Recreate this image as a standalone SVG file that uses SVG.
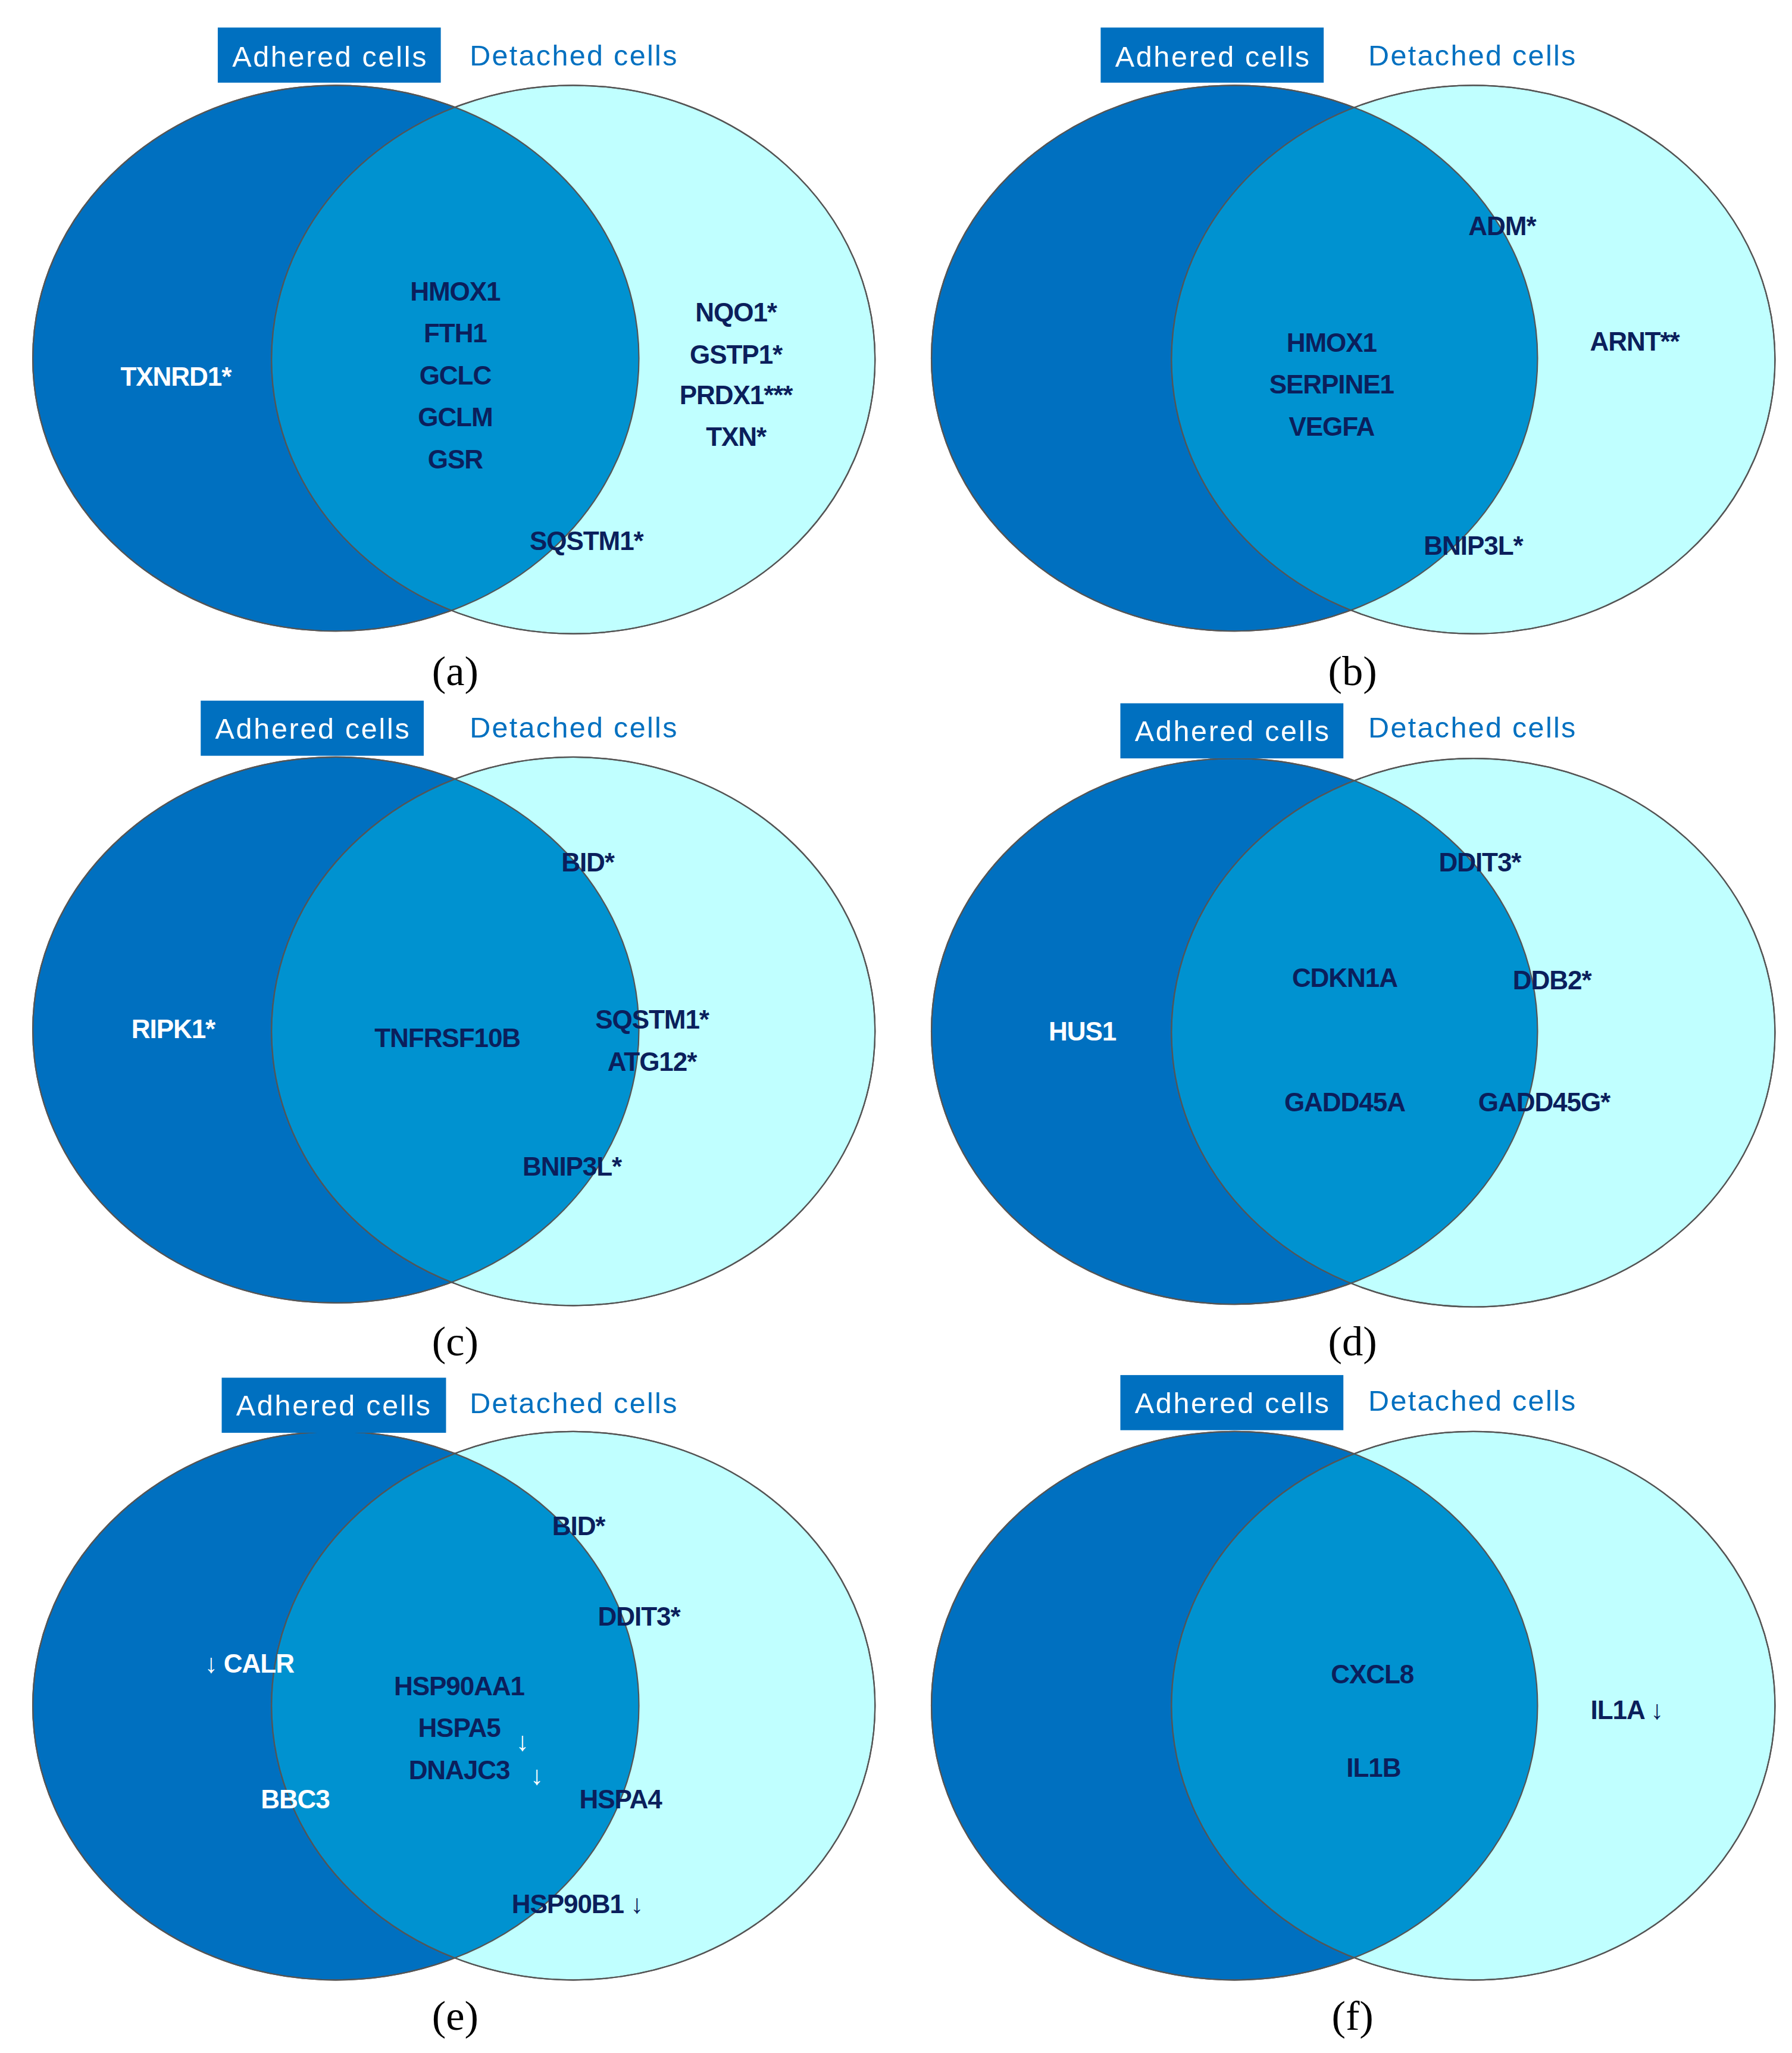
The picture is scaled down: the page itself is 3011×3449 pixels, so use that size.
<svg xmlns="http://www.w3.org/2000/svg" width="3011" height="3449" viewBox="0 0 3011 3449">
<style>
.L{fill:#0070C0;stroke:#555;stroke-width:1}
.R{fill:#C0FFFF;stroke:#555;stroke-width:1}
.I{fill:#0092D0}
.O{fill:none;stroke:#555;stroke-width:1}
.box{fill:#0070C0}
.ad{font-family:"Liberation Sans",Arial,sans-serif;font-size:22px;fill:#fff;text-anchor:middle}
.de{font-family:"Liberation Sans",Arial,sans-serif;font-size:22px;fill:#0070C0;text-anchor:middle}
.g{font-family:"Liberation Sans",Arial,sans-serif;font-weight:bold;font-size:20px;fill:#0B1F5C;text-anchor:middle;letter-spacing:-0.5px}
.w{fill:#fff}
.cap{font-family:"Liberation Serif","Times New Roman",serif;font-size:32px;fill:#000;text-anchor:middle}
</style>
<defs>
<clipPath id="ca"><ellipse cx="256" cy="273" rx="231" ry="208"/></clipPath>
<clipPath id="cb"><ellipse cx="941" cy="273" rx="231" ry="208"/></clipPath>
<clipPath id="cc"><ellipse cx="256" cy="785" rx="231" ry="208"/></clipPath>
<clipPath id="cd"><ellipse cx="941" cy="786" rx="231" ry="208"/></clipPath>
<clipPath id="ce"><ellipse cx="256" cy="1300" rx="231" ry="209"/></clipPath>
<clipPath id="cf"><ellipse cx="941" cy="1300" rx="231" ry="209"/></clipPath>
</defs>
<rect width="3011" height="3449" fill="#fff"/>
<g transform="scale(2.2043)">
<g id="panel-a">
<ellipse class="L" cx="256" cy="273" rx="231" ry="208"/>
<ellipse class="R" cx="437" cy="274" rx="230" ry="209"/>
<ellipse class="I" cx="437" cy="274" rx="230" ry="209" clip-path="url(#ca)"/>
<ellipse class="O" cx="256" cy="273" rx="231" ry="208"/>
<ellipse class="O" cx="437" cy="274" rx="230" ry="209"/>
<rect class="box" x="166" y="21" width="170" height="42"/>
<text class="ad" x="251" y="51" textLength="148">Adhered cells</text>
<text class="de" x="437" y="50" textLength="158">Detached cells</text>
<text class="g w" x="134" y="294">TXNRD1*</text>
<text class="g" x="347" y="229">HMOX1</text>
<text class="g" x="347" y="261">FTH1</text>
<text class="g" x="347" y="293">GCLC</text>
<text class="g" x="347" y="325">GCLM</text>
<text class="g" x="347" y="357">GSR</text>
<text class="g" x="561" y="245">NQO1*</text>
<text class="g" x="561" y="277">GSTP1*</text>
<text class="g" x="561" y="308">PRDX1***</text>
<text class="g" x="561" y="340">TXN*</text>
<text class="g" x="447" y="419">SQSTM1*</text>
<text class="cap" x="347" y="522">(a)</text>
</g>
<g id="panel-b">
<ellipse class="L" cx="941" cy="273" rx="231" ry="208"/>
<ellipse class="R" cx="1123" cy="274" rx="230" ry="209"/>
<ellipse class="I" cx="1123" cy="274" rx="230" ry="209" clip-path="url(#cb)"/>
<ellipse class="O" cx="941" cy="273" rx="231" ry="208"/>
<ellipse class="O" cx="1123" cy="274" rx="230" ry="209"/>
<rect class="box" x="839" y="21" width="170" height="42"/>
<text class="ad" x="924" y="51" textLength="148">Adhered cells</text>
<text class="de" x="1122" y="50" textLength="158">Detached cells</text>
<text class="g" x="1145" y="179">ADM*</text>
<text class="g" x="1015" y="268">HMOX1</text>
<text class="g" x="1015" y="300">SERPINE1</text>
<text class="g" x="1015" y="332">VEGFA</text>
<text class="g" x="1246" y="267">ARNT**</text>
<text class="g" x="1123" y="423">BNIP3L*</text>
<text class="cap" x="1031" y="522">(b)</text>
</g>
<g id="panel-c">
<ellipse class="L" cx="256" cy="785" rx="231" ry="208"/>
<ellipse class="R" cx="437" cy="786" rx="230" ry="209"/>
<ellipse class="I" cx="437" cy="786" rx="230" ry="209" clip-path="url(#cc)"/>
<ellipse class="O" cx="256" cy="785" rx="231" ry="208"/>
<ellipse class="O" cx="437" cy="786" rx="230" ry="209"/>
<rect class="box" x="153" y="534" width="170" height="42"/>
<text class="ad" x="238" y="563" textLength="148">Adhered cells</text>
<text class="de" x="437" y="562" textLength="158">Detached cells</text>
<text class="g w" x="132" y="791">RIPK1*</text>
<text class="g" x="341" y="798">TNFRSF10B</text>
<text class="g" x="448" y="664">BID*</text>
<text class="g" x="497" y="784">SQSTM1*</text>
<text class="g" x="497" y="816">ATG12*</text>
<text class="g" x="436" y="896">BNIP3L*</text>
<text class="cap" x="347" y="1033">(c)</text>
</g>
<g id="panel-d">
<ellipse class="L" cx="941" cy="786" rx="231" ry="208"/>
<ellipse class="R" cx="1123" cy="787" rx="230" ry="209"/>
<ellipse class="I" cx="1123" cy="787" rx="230" ry="209" clip-path="url(#cd)"/>
<ellipse class="O" cx="941" cy="786" rx="231" ry="208"/>
<ellipse class="O" cx="1123" cy="787" rx="230" ry="209"/>
<rect class="box" x="854" y="536" width="170" height="42"/>
<text class="ad" x="939" y="565" textLength="148">Adhered cells</text>
<text class="de" x="1122" y="562" textLength="158">Detached cells</text>
<text class="g" x="1128" y="664">DDIT3*</text>
<text class="g" x="1025" y="752">CDKN1A</text>
<text class="g" x="1183" y="754">DDB2*</text>
<text class="g w" x="825" y="793">HUS1</text>
<text class="g" x="1025" y="847">GADD45A</text>
<text class="g" x="1177" y="847">GADD45G*</text>
<text class="cap" x="1031" y="1033">(d)</text>
</g>
<g id="panel-e">
<ellipse class="L" cx="256" cy="1300" rx="231" ry="209"/>
<ellipse class="R" cx="437" cy="1300" rx="230" ry="209"/>
<ellipse class="I" cx="437" cy="1300" rx="230" ry="209" clip-path="url(#ce)"/>
<ellipse class="O" cx="256" cy="1300" rx="231" ry="209"/>
<ellipse class="O" cx="437" cy="1300" rx="230" ry="209"/>
<rect class="box" x="169" y="1050" width="171" height="42"/>
<text class="ad" x="254" y="1079" textLength="148">Adhered cells</text>
<text class="de" x="437" y="1077" textLength="158">Detached cells</text>
<text class="g w" x="190" y="1275">↓ CALR</text>
<text class="g w" x="225" y="1378">BBC3</text>
<text class="g" x="441" y="1170">BID*</text>
<text class="g" x="487" y="1239">DDIT3*</text>
<text class="g" x="350" y="1292">HSP90AA1</text>
<text class="g" x="350" y="1324">HSPA5</text>
<text class="g w" x="398" y="1334">↓</text>
<text class="g" x="350" y="1356">DNAJC3</text>
<text class="g w" x="409" y="1360">↓</text>
<text class="g" x="473" y="1378">HSPA4</text>
<text class="g" x="440" y="1458">HSP90B1 ↓</text>
<text class="cap" x="347" y="1547">(e)</text>
</g>
<g id="panel-f">
<ellipse class="L" cx="941" cy="1300" rx="231" ry="209"/>
<ellipse class="R" cx="1123" cy="1300" rx="230" ry="209"/>
<ellipse class="I" cx="1123" cy="1300" rx="230" ry="209" clip-path="url(#cf)"/>
<ellipse class="O" cx="941" cy="1300" rx="231" ry="209"/>
<ellipse class="O" cx="1123" cy="1300" rx="230" ry="209"/>
<rect class="box" x="854" y="1048" width="170" height="42"/>
<text class="ad" x="939" y="1077" textLength="148">Adhered cells</text>
<text class="de" x="1122" y="1075" textLength="158">Detached cells</text>
<text class="g" x="1046" y="1283">CXCL8</text>
<text class="g" x="1047" y="1354">IL1B</text>
<text class="g" x="1240" y="1310">IL1A ↓</text>
<text class="cap" x="1031" y="1547">(f)</text>
</g>
</g>
</svg>
